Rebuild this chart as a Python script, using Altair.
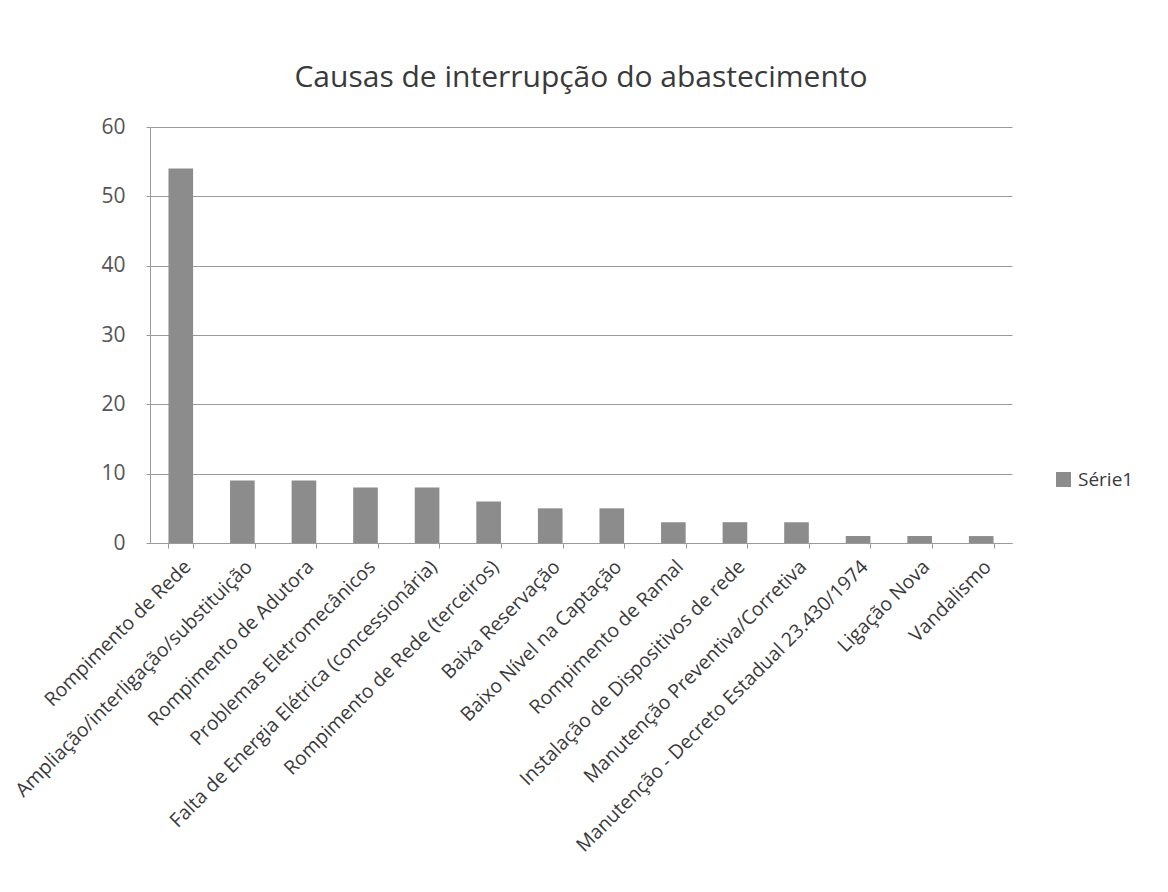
import altair as alt
import pandas as pd

categories = [
    "Rompimento de Rede",
    "Ampliação/interligação/substituição",
    "Rompimento de Adutora",
    "Problemas Eletromecânicos",
    "Falta de Energia Elétrica (concessionária)",
    "Rompimento de Rede (terceiros)",
    "Baixa Reservação",
    "Baixo Nível na Captação",
    "Rompimento de Ramal",
    "Instalação de Dispositivos de rede",
    "Manutenção Preventiva/Corretiva",
    "Manutenção - Decreto Estadual 23.430/1974",
    "Ligação Nova",
    "Vandalismo",
]
values = [54, 9, 9, 8, 8, 6, 5, 5, 3, 3, 3, 1, 1, 1]
series_name = "Série1"
y_ticks = [0, 10, 20, 30, 40, 50, 60]

df = pd.DataFrame({
    "Causa": categories,
    "Ocorrências": values,
    "Série": [series_name] * len(categories),
})

FONT = "Open Sans"
GRID = "#9a9a9a"

chart = alt.Chart(df).mark_bar().encode(
    x=alt.X(
        "Causa:N",
        sort=None,
        title=None,
        scale=alt.Scale(paddingInner=0.6, paddingOuter=0.3),
        axis=alt.Axis(
            labelAngle=-45,
            labelFontSize=19.5,
            labelFont=FONT,
            labelColor="#3a3a3a",
            labelLimit=0,
            labelPadding=9,
            tickBand="extent",
            tickSize=5,
            tickColor=GRID,
            domainColor=GRID,
        ),
    ),
    y=alt.Y(
        "Ocorrências:Q",
        title=None,
        scale=alt.Scale(domain=[0, 60], nice=False),
        axis=alt.Axis(
            values=y_ticks,
            labelFontSize=21,
            labelFont=FONT,
            labelColor="#555555",
            labelPadding=21,
            tickSize=4,
            tickColor=GRID,
            domainColor=GRID,
            gridColor=GRID,
        ),
    ),
    color=alt.Color(
        "Série:N",
        scale=alt.Scale(range=["#8c8c8c"]),
        legend=alt.Legend(
            title=None,
            orient="none",
            legendX=904,
            legendY=343,
            symbolType="square",
            symbolSize=225,
            symbolStrokeWidth=0,
            labelFontSize=19,
            labelFont=FONT,
            labelColor="#3a3a3a",
            labelOffset=5,
        ),
    ),
).properties(
    width=862,
    height=416,
    autosize=alt.AutoSizeParams(type="none"),
    padding={"left": 142, "top": 119, "right": 140, "bottom": 330},
    title=alt.Title(
        "Causas de interrupção do abastecimento",
        fontSize=30,
        font=FONT,
        fontWeight="normal",
        color="#3a3a3a",
        offset=23,
        anchor="middle",
    ),
).configure_view(stroke=None)

chart.save("out.html", embed_options={"renderer": "svg", "actions": False})
